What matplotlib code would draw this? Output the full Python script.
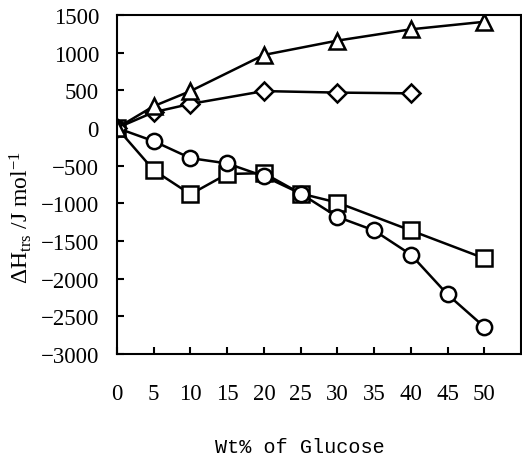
import matplotlib
matplotlib.use("Agg")
import matplotlib.pyplot as plt

x_tri = [0, 5, 10, 20, 30, 40, 50]
y_tri = [0, 290, 490, 970, 1160, 1310, 1410]
x_dia = [0, 5, 10, 20, 30, 40]
y_dia = [0, 210, 320, 490, 470, 460]
x_cir = [0, 5, 10, 15, 20, 25, 30, 35, 40, 45, 50]
y_cir = [0, -175, -400, -470, -640, -870, -1180, -1360, -1680, -2210, -2640]
x_sq = [0, 5, 10, 15, 20, 25, 30, 40, 50]
y_sq = [0, -560, -880, -610, -600, -870, -990, -1360, -1730]
xticks = [0, 5, 10, 15, 20, 25, 30, 35, 40, 45, 50]
yticks = [1500, 1000, 500, 0, -500, -1000, -1500, -2000, -2500, -3000]

plt.rcParams['font.family'] = ['Liberation Serif', 'DejaVu Serif']
plt.rcParams['mathtext.fontset'] = 'custom'
plt.rcParams['mathtext.rm'] = 'Liberation Serif'
plt.rcParams['mathtext.it'] = 'Liberation Serif'

fig = plt.figure(figsize=(5.22, 4.56), dpi=100)
ax = fig.add_axes([117/522, 101/456, 404/522, 339/456])

mk = dict(color='black', lw=1.8, markerfacecolor='white', markeredgecolor='black',
          markeredgewidth=1.8, markersize=11)
ax.plot(x_sq, y_sq, marker='s', **mk)
ax.plot(x_cir, y_cir, marker='o', **mk)
ax.plot(x_dia, y_dia, marker='D', **{**mk, 'markersize': 9})
ax.plot(x_tri, y_tri, marker='^', **{**mk, 'markersize': 12})

ax.set_xlim(0, 55)
ax.set_ylim(-3000, 1500)
ax.set_xticks(xticks)
ax.set_yticks(yticks)
ax.tick_params(axis='both', direction='in', length=5, width=1.5, labelsize=16.5)
ax.tick_params(axis='x', pad=21)
ax.tick_params(axis='y', pad=13)
for s in ax.spines.values():
    s.set_linewidth(1.5)

ax.set_xlabel('Wt% of Glucose', family=['Liberation Mono', 'DejaVu Sans Mono'],
              fontsize=14.5)
ax.xaxis.set_label_coords(0.453, -0.245)
ax.set_ylabel(r'$\Delta$H$_{trs}$ /J mol$^{-1}$', fontsize=17)
ax.yaxis.set_label_coords(-0.205, 0.404)

fig.savefig('out.png', dpi=100)
